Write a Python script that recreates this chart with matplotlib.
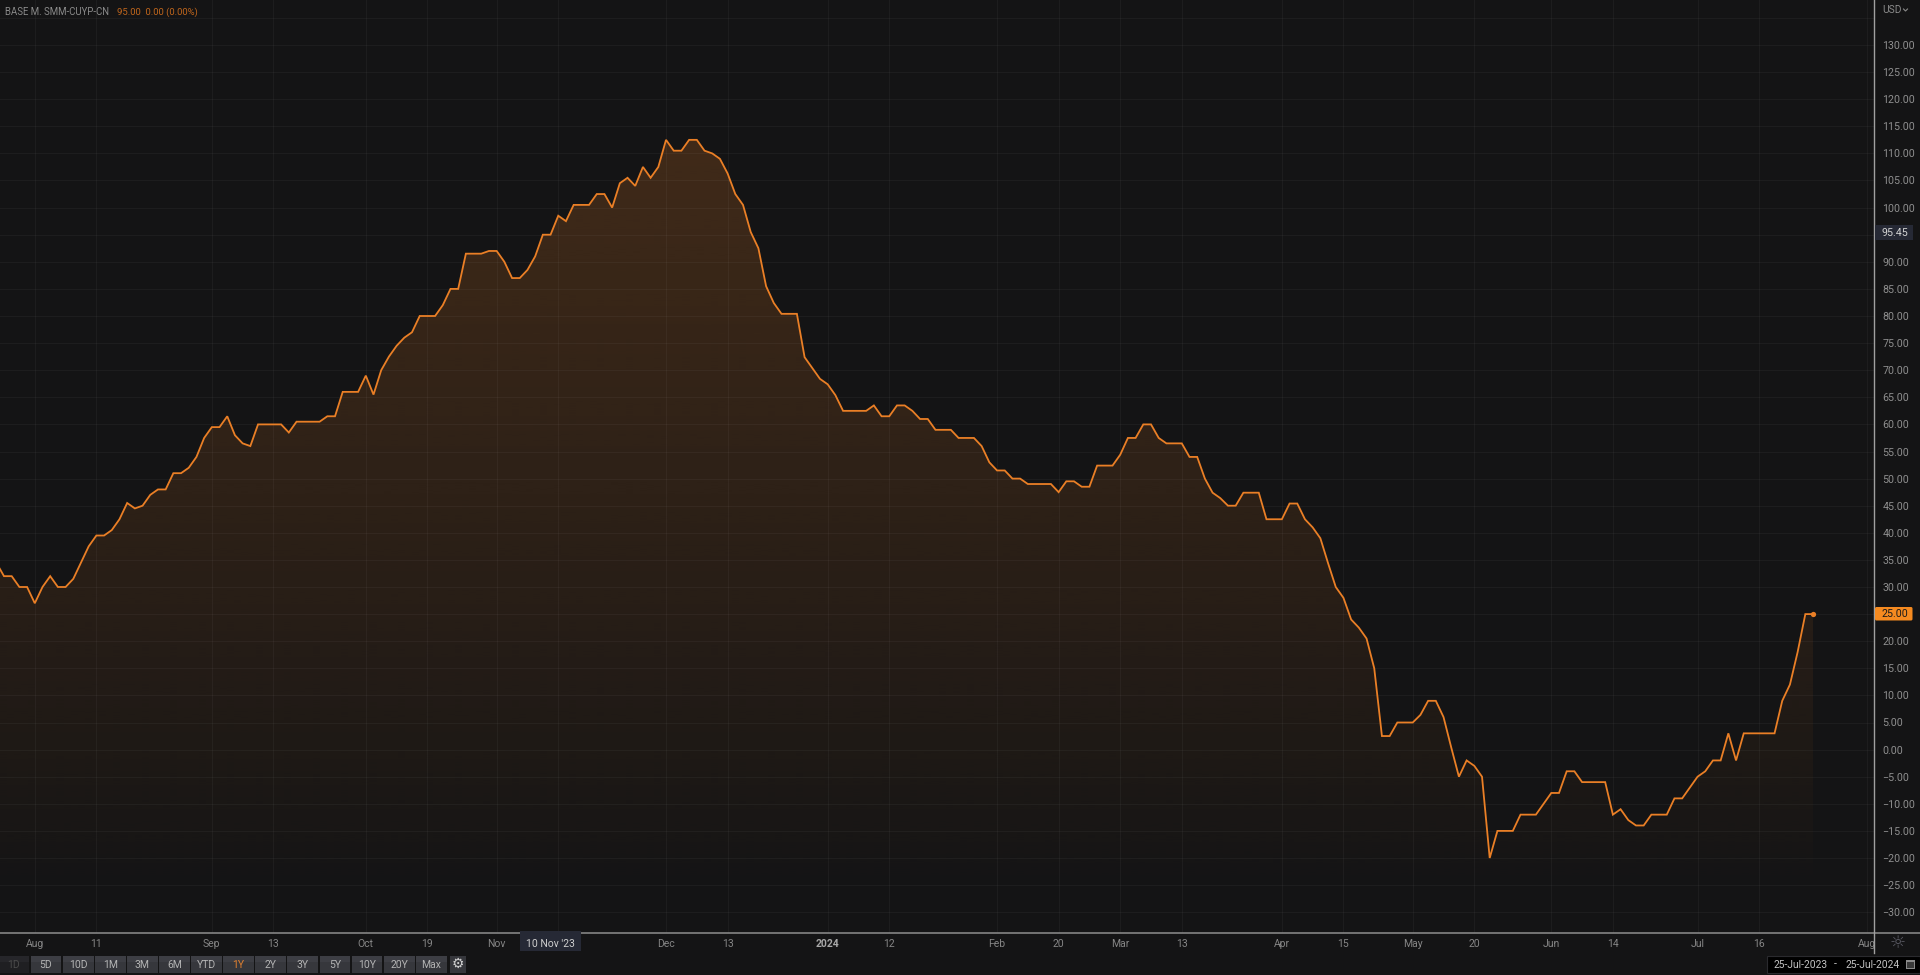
import numpy as np
import matplotlib
matplotlib.use("Agg")
import matplotlib.pyplot as plt
from matplotlib.patches import Rectangle, Polygon, FancyBboxPatch
from matplotlib.colors import LinearSegmentedColormap

plt.rcParams['font.family'] = ['Roboto', 'DejaVu Sans']

values_aug_oct = [34.5,32,32,30,30,27,30,32,30,30,31.5,34.5,37.5,39.5,39.5,40.5,42.5,45.5,44.5,45,47,48,48,51,51,52,54,57.5,59.5,59.5,61.5,58,56.5,56,60,60,60,60,58.5,60.5,60.5,60.5,60.5,61.5,61.5]
values_oct_nov = [66,66,66,69,65.5,70,72.5,74.5,76,77,80,80,80]
values_nov_jan = [82,85,85,91.5,91.5,91.5,92,92,90,87,87,88.5,91,95,95,98.5,97.5,100.5,100.5,100.5,102.5,102.5,100,104.5,105.5,104,107.5,105.5,107.5,112.5,110.5,110.5,112.5,112.5,110.5,110,109,106.3,102.5,100.5,95.5,92.5,85.5,82.4,80.4,80.4,80.4,72.4,70.4,68.4,67.4,65.4,62.5]
values_jan_apr = [62.5,62.5,62.5,63.5,61.5,61.5,63.5,63.5,62.5,61,61,59,59,59,57.5,57.5,57.5,56,53,51.5,51.5,50,50,49,49,49,49,47.5,49.5,49.5,48.5,48.5,52.4,52.4,52.4,54.4,57.5,57.5,60,60,57.5,56.5,56.5,56.5,54,54,50,47.4,46.4,45,45,47.4,47.4,47.4,42.5,42.5,42.5,45.4,45.4,42.5,41,39,34.4,30]
values_apr_jul = [28,24,22.5,20.5,15,2.5,2.5,5,5,5,6.4,9,9,6,0.4,-5,-2,-3,-5,-20,-15,-15,-15,-12,-12,-12,-10,-8,-8,-4,-4,-6,-6,-6,-6,-12,-11,-13,-14,-14,-12,-12,-12,-9,-9,-7,-5,-4,-2,-2,3,-2,3,3,3,3,3,9,12,18,25,25]
values = np.array(values_aug_oct + values_oct_nov + values_nov_jan + values_jan_apr + values_apr_jul)

x_tick_index = [5,13,28,36,48,56,65,73,87,95,108,116,130,138,146,154,167,175,184,192,202,210,221,229,243]
x_tick_labels = ['Aug','11','Sep','13','Oct','19','Nov','','Dec','13','2024','12','Feb','20','Mar','13','Apr','15','May','20','Jun','14','Jul','16','Aug']
y_ticks = list(range(-30, 136, 5))
ranges = ['1D','5D','10D','1M','3M','6M','YTD','1Y','2Y','3Y','5Y','10Y','20Y','Max']

BG = '#141415'
ORANGE = '#ea7f26'
W, H = 1920, 975
AX_R, AX_B = 1874.3, 932.7
PX_STEP, PX_FIRST = 7.698, -3.7
PX_PER_UNIT, Y130 = 5.42, 45.0

fig = plt.figure(figsize=(W/100, H/100), dpi=100, facecolor=BG)
ax = fig.add_axes([0, 1-AX_B/H, AX_R/W, AX_B/H], facecolor=BG)
x = np.arange(len(values))
ax.set_xlim(-PX_FIRST/PX_STEP, (AX_R-PX_FIRST)/PX_STEP)
ax.set_ylim(130-(AX_B-Y130)/PX_PER_UNIT, 130+Y130/PX_PER_UNIT)

# gradient area
y0, y1 = ax.get_ylim()
cmap = LinearSegmentedColormap.from_list('fade', [(0.92,0.50,0.15,0.0), (0.92,0.50,0.15,1.0)])
ybot_alpha = 130-(900-Y130)/PX_PER_UNIT
ytop_alpha = 130-(139-Y130)/PX_PER_UNIT
grad = np.interp(np.linspace(139, 900, 256), [139, 620, 800, 900], [0.21, 0.09, 0.035, 0.0]).reshape(-1, 1)
im = ax.imshow(grad, cmap=cmap, vmin=0, vmax=1, aspect='auto', zorder=1, interpolation='bilinear',
               extent=[x[0], x[-1], ybot_alpha, ytop_alpha])
ax.set_xlim(-PX_FIRST/PX_STEP, (AX_R-PX_FIRST)/PX_STEP)
ax.set_ylim(y0, y1)
poly = Polygon(np.vstack([[x[0], y0], np.column_stack([x, values]), [x[-1], y0]]),
               closed=True, transform=ax.transData, fc='none', ec='none')
ax.add_patch(poly)
im.set_clip_path(poly)

ax.plot(x, values, color=ORANGE, lw=1.3, zorder=4, solid_joinstyle='miter')
ax.plot(x[-1], values[-1], 'o', color=ORANGE, ms=3.8, mew=0, zorder=5)

ax.yaxis.tick_right()
ax.set_yticks(y_ticks)
ax.set_yticklabels([('' if v == 135 else f'{v:.2f}'.replace('-', '\u2212')) for v in y_ticks], color='#8f8f8f', fontsize=7.7)
ax.set_xticks(x_tick_index)
ax.set_xticklabels(x_tick_labels, color='#868686', fontsize=7.5)
for t, lab in zip(ax.get_xticklabels(), x_tick_labels):
    if lab == '2024':
        t.set_fontweight('bold'); t.set_color('#a8a8a8')
ax.tick_params(axis='both', length=0)
ax.tick_params(axis='y', pad=5.8)
ax.tick_params(axis='x', pad=4.5)
ax.grid(True, color='white', alpha=0.04, lw=0.8, zorder=2)
ax.set_axisbelow(False)
for s in ax.spines.values():
    s.set_visible(False)

# interface overlay, in figure pixels
ui = fig.add_axes([0, 0, 1, 1], facecolor='none')
ui.set_xlim(0, W); ui.set_ylim(H, 0); ui.axis('off')

ui.plot([0, W], [AX_B, AX_B], color='#8e8e8e', lw=1.1)
ui.plot([AX_R, AX_R], [0, 953], color='#a0a0a0', lw=1.0)

ui.text(5, 12, 'BASE M. SMM-CUYP-CN', color='#8a8a8a', fontsize=6.9, va='center')
ui.text(117, 12, '95.00  0.00 (0.00%)', color='#c0661c', fontsize=6.8, va='center')
ui.text(1882, 10, 'USD', color='#8a8a8a', fontsize=7.4, va='center')
ui.plot([1903.5, 1905.5, 1907.5], [9, 11, 9], color='#8a8a8a', lw=0.8)

# price flags
ui.add_patch(Rectangle((1875, 224.5), 37.5, 15.5, fc='#262935', ec='none', zorder=3))
ui.text(1882, 232.5, '95.45', color='#d4d4d4', fontsize=7.7, va='center', zorder=4)
ui.add_patch(FancyBboxPatch((1876, 608), 35.5, 11.5, boxstyle='round,pad=1,rounding_size=1.5',
                            fc='#f58a20', ec='none', zorder=3))
ui.text(1882, 614, '25.00', color='#1a1a1a', fontsize=7.7, va='center', zorder=4)

# crosshair date
ui.add_patch(Rectangle((520, 931), 61, 20, fc='#262935', ec='none', zorder=3))
ui.text(550.5, 944, "10 Nov '23", color='#cfcfcf', fontsize=7.5, va='center', ha='center', zorder=4)

# range buttons
for i, lab in enumerate(ranges):
    left = -1.5 + 32.1*i
    dim = lab == '1D'
    ui.add_patch(Rectangle((left, 956), 30.8, 16.5, fc='#1f1f22' if dim else '#36373c', ec='none'))
    ui.add_patch(Rectangle((left, 956), 30.8, 6, fc='#26262a' if dim else '#3d3e44', ec='none'))
    c = '#4a4a4a' if dim else ('#e08030' if lab == '1Y' else '#b4b4b4')
    ui.text(left+15.4, 964.5, lab, color=c, fontsize=7.5, ha='center', va='center')
ui.add_patch(Rectangle((449.8, 956), 16.5, 16.5, fc='#36373c', ec='none'))
ui.text(458, 964.3, '\u2699', color='#d0d0d0', fontsize=10, ha='center', va='center', family='DejaVu Sans')

# date range
ui.add_patch(Rectangle((1767, 956), 152.5, 16.5, fc='#000000', ec='#2a2a2e', lw=0.8))
ui.text(1774, 964.5, '25-Jul-2023', color='#c4c4c4', fontsize=7.35, va='center')
ui.text(1835.5, 964.5, '-', color='#c4c4c4', fontsize=7.6, va='center', ha='center')
ui.text(1846, 964.5, '25-Jul-2024', color='#c4c4c4', fontsize=7.35, va='center')
ui.add_patch(Rectangle((1906, 959.5), 8.5, 9.5, fc='#8a8a8a', ec='none'))
ui.add_patch(Rectangle((1907, 962), 6.5, 6, fc='#3a3a3a', ec='none'))
ui.text(1898, 943.5, '\u263c', color='#5c5c66', fontsize=13, ha='center', va='center', family='DejaVu Sans')

fig.savefig('out.png', dpi=100, facecolor=BG)
